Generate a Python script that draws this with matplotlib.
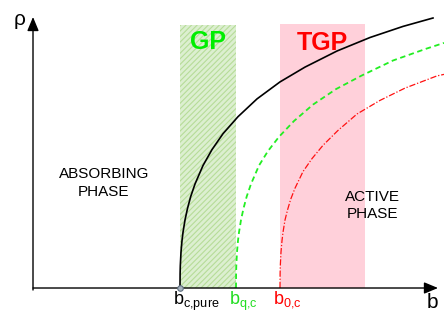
import matplotlib
matplotlib.use("Agg")
import matplotlib.pyplot as plt
from matplotlib.patches import Rectangle

plt.rcParams['font.family'] = ['Liberation Sans', 'DejaVu Sans']
plt.rcParams['mathtext.default'] = 'regular'
plt.rcParams['hatch.linewidth'] = 0.8

# critical points on the b axis
b_c_pure = 3.577
b_q_c = 4.939
b_0_c = 6.010
tgp_end = 8.078

# order parameter curves
b_pure = [3.5766, 3.5791, 3.5839, 3.601, 3.6253, 3.6496, 3.6983, 3.7591, 3.837, 3.9416, 4.1363,
          4.3552, 4.6229, 4.9878, 5.4501, 6.0097, 6.618, 7.3966, 8.1995, 9.0024, 9.7324]
rho_pure = [0, 0.0497, 0.0771, 0.1247, 0.1646, 0.1934, 0.2361, 0.2764, 0.3177, 0.3611, 0.4253,
            0.4806, 0.5358, 0.5948, 0.6566, 0.7156, 0.767, 0.8229, 0.8698, 0.9083, 0.9375]

b_q = [4.9392, 4.9416, 4.9465, 4.9635, 4.9878, 5.0122, 5.0608, 5.1217, 5.1995, 5.3041, 5.4988,
       5.7178, 5.9854, 6.3504, 6.8127, 7.3723, 7.9805, 8.7591, 9.562, 10.0]
rho_q = [0, 0.0497, 0.0771, 0.1247, 0.1646, 0.1934, 0.2361, 0.2764, 0.3177, 0.3611, 0.4253,
         0.4757, 0.525, 0.5799, 0.6368, 0.6906, 0.7365, 0.7899, 0.8306, 0.851]

b_0 = [6.0097, 6.0122, 6.017, 6.0341, 6.0584, 6.0827, 6.1314, 6.1922, 6.2701, 6.3747, 6.5693,
       6.7883, 7.056, 7.4209, 7.8832, 8.4428, 9.0511, 9.8297, 10.0]
rho_0 = [0, 0.0497, 0.0771, 0.1247, 0.1646, 0.1934, 0.2361, 0.2708, 0.3083, 0.3465, 0.4042,
         0.4493, 0.4955, 0.5472, 0.6042, 0.6514, 0.6941, 0.7365, 0.7417]

band_top = 0.913

fig = plt.figure(figsize=(4.44, 3.12), dpi=100)
ax = fig.add_axes([0, 0, 1, 1])
ax.set_xlim(-0.803, 10.0)
ax.set_ylim(-0.0833, 1.0)
ax.axis('off')

# GP (hatched green) and TGP (pink) regions
ax.add_patch(Rectangle((b_c_pure, 0), b_q_c - b_c_pure, band_top, facecolor='#dcefd0',
                       edgecolor='#b6dc98', hatch='//////', lw=0, zorder=1))
ax.add_patch(Rectangle((b_0_c, 0), tgp_end - b_0_c, band_top + 0.004, facecolor='#ffd0da',
                       edgecolor='none', lw=0, zorder=1))

ax.plot(b_pure, rho_pure, color='black', lw=1.2, zorder=3)
ax.plot(b_q, rho_q, color='#22ee22', lw=1.3, linestyle=(0, (3, 2)), zorder=3)
ax.plot(b_0, rho_0, color='#ff1010', lw=0.9, linestyle=(0, (5, 1.5, 1, 1.5)), zorder=3)

# axes with arrows
arrow = dict(arrowstyle='-|>,head_length=0.6,head_width=0.25', color='black', lw=1.0,
             mutation_scale=14, shrinkA=0, shrinkB=0)
ax.annotate('', xy=(9.854, 0), xytext=(0, 0), arrowprops=arrow, zorder=4)
ax.annotate('', xy=(0, 0.941), xytext=(0, -0.007), arrowprops=arrow, zorder=4)

ax.plot([b_c_pure], [0], 'o', ms=4, mfc='#a8b4c0', mec='#607080', mew=0.8, zorder=5)

ax.text((b_c_pure + b_q_c) / 2, 0.854, 'GP', color='#00ee00', fontsize=18, fontweight='bold',
        ha='center', va='center', zorder=4)
ax.text((b_0_c + tgp_end) / 2, 0.852, 'TGP', color='#ff0000', fontsize=18, fontweight='bold',
        ha='center', va='center', zorder=4)

ax.text(1.727, 0.365, 'ABSORBING\nPHASE', fontsize=11, ha='center', va='center',
        linespacing=1.4)
ax.text(8.27, 0.286, 'ACTIVE\nPHASE', fontsize=11, ha='center', va='center',
        linespacing=1.25, zorder=4)

ax.text(-0.316, 0.934, 'ρ', fontsize=15, ha='center', va='center')
ax.text(9.71, -0.052, 'b', fontsize=15, ha='center', va='center')

for x, label, c in [(b_c_pure, r'$b_{c{,}pure}$', 'black'),
                    (b_q_c, r'$b_{q{,}c}$', '#22dd22'),
                    (b_0_c, r'$b_{0{,}c}$', '#ff0000')]:
    ax.annotate(label, xy=(x, 0), xytext=(-5, -1), textcoords='offset points',
                fontsize=13, color=c, ha='left', va='top')

fig.savefig('out.png', dpi=100)
